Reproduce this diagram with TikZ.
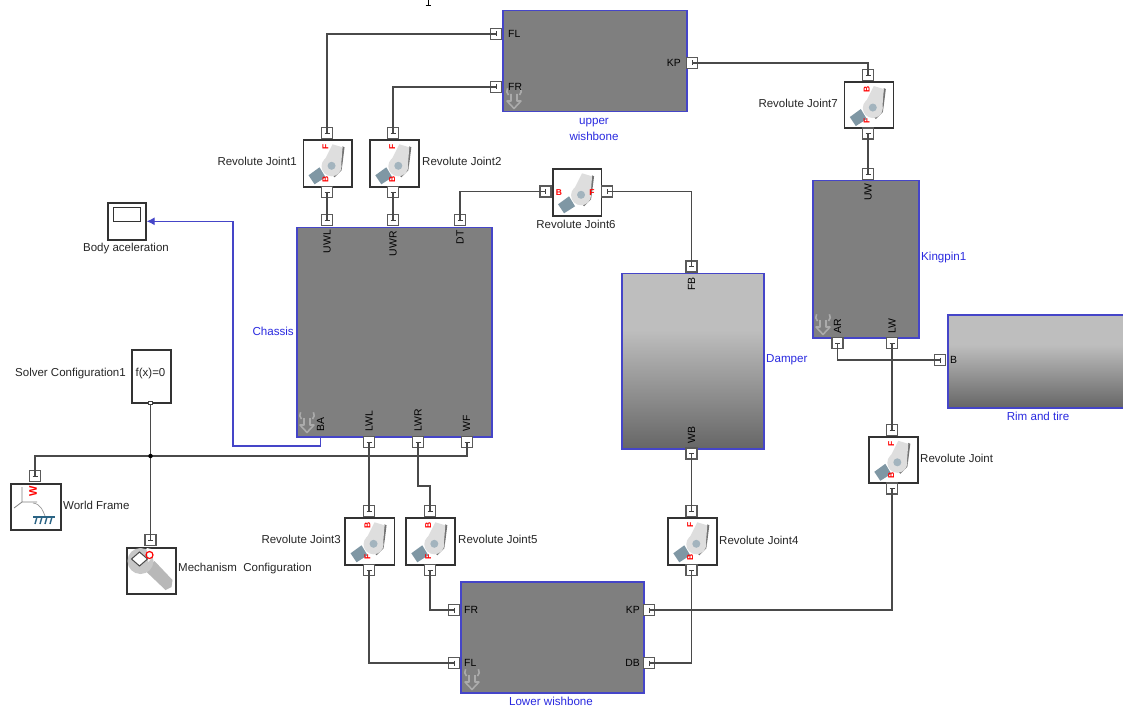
\documentclass[tikz,border=0pt]{standalone}
\usepackage{fontspec}
\setmainfont{Liberation Sans}
\usetikzlibrary{arrows.meta}
\definecolor{blockgray}{HTML}{7F7F7F}
\definecolor{blockedge}{HTML}{4545C8}
\definecolor{labelblue}{HTML}{2A2AE0}
\definecolor{wirecol}{HTML}{4A4A4A}
\definecolor{portcol}{HTML}{5A5A5A}
\definecolor{gradtop}{HTML}{BEBEBE}
\definecolor{gradbot}{HTML}{666666}
\definecolor{leverc}{HTML}{DEDEDE}
\definecolor{platec}{HTML}{7F97A4}
\definecolor{hubc}{HTML}{A3B4BE}
\definecolor{framec}{HTML}{2A6384}
\pgfdeclareverticalshading{simgrad}{100bp}{color(0bp)=(gradbot); color(25bp)=(gradbot); color(59bp)=(gradtop); color(75bp)=(gradtop); color(100bp)=(gradtop)}
\newcommand{\simblk}[6]{%
  \pgfmathsetmacro{\blkw}{#5-#3}\pgfmathsetmacro{\blkh}{#6-#4}%
  \node[#1,minimum width=\blkw pt,minimum height=\blkh pt,anchor=north west] (#2) at (#3,#4) {};}
\newcommand{\vport}[3]{\node[portbox] (#1) at (#2,#3) {};\draw[porttick] (#2-2.5,#3) -- (#2+2.5,#3);}
\newcommand{\hport}[3]{\node[portbox] (#1) at (#2,#3) {};\draw[porttick] (#2,#3-2.5) -- (#2,#3+2.5);}
\tikzset{
  x=1pt,y=-1pt,
  simbody/.style={draw=blockedge,line width=1.5pt,fill=blockgray,inner sep=0pt,rectangle},
  simgradbody/.style={draw=blockedge,line width=1.5pt,shading=simgrad,inner sep=0pt,rectangle},
  iconbox/.style={draw=black!80,line width=1.6pt,fill=white,inner sep=0pt,rectangle},
  portbox/.style={draw=portcol,line width=1.1pt,fill=white,minimum size=11pt,inner sep=0pt,rectangle},
  porttick/.style={draw=black!75,line width=0.7pt},
  wire/.style={draw=wirecol,line width=1.3pt},
  bluewire/.style={draw=blockedge,line width=1.2pt,-{Latex[length=8pt,width=8pt]}},
  blabel/.style={font=\fontsize{11.5}{13}\selectfont,text=black!85,inner sep=0pt},
  bluelabel/.style={font=\fontsize{11.6}{13}\selectfont,text=labelblue,inner sep=0pt,align=center},
  plabel/.style={font=\fontsize{10.4}{11}\selectfont,text=black,inner sep=0pt},
  redletter/.style={font=\fontsize{8.5}{9}\bfseries\selectfont,text=red,inner sep=0pt},
  pics/jointicon/.style n args={3}{code={
    \fill[platec] (-19,12) -- (-8,4) -- (-2,14) -- (-13,21) -- cycle;
    \fill[black!55] (15,-17) -- (17,-16) -- (15,0) -- (14,7) -- (7,14) -- (5,12) -- (12,5) -- cycle;
    \fill[leverc] (5,-19) -- (15,-16) -- (13.5,3) -- (-5,1) -- cycle;
    \fill[leverc] (4,3) circle[radius=10];
    \fill[hubc] (4,2.5) circle[radius=4];
    \if#1v
      \node[redletter,rotate=90] at (-2,-16) {#2};
      \node[redletter,rotate=90] at (-2,16) {#3};
    \else
      \node[redletter] at (-18,0) {#2};
      \node[redletter] at (15,0) {#3};
    \fi
  }},
  pics/maskicon/.style={code={
    \draw[black!33,line width=1.6pt,line join=round] (-3,-8) -- (-3,-1) -- (-7,-1) -- (0,6.5) -- (7,-1) -- (3,-1) -- (3,-8);
    \draw[black!33,line width=1.6pt] (-5.5,-7) arc[start angle=130,end angle=215,radius=5];
    \draw[black!33,line width=1.6pt] (5.5,-7) arc[start angle=50,end angle=-35,radius=5];
  }},
}
\begin{document}
\begin{tikzpicture}
\useasboundingbox (0,0) rectangle (1123,708);
\clip (0,0) rectangle (1123,708);
\fill[white] (0,0) rectangle (1123,708);
% clipped line of running text above the diagram
\draw[black,line width=1pt] (428,0) -- (428,5) (425.5,5.5) -- (431,5.5);
% blocks
\simblk{simbody}{upper}{502}{10}{686}{111}
\simblk{simbody}{chassis}{296}{227}{491}{436}
\simblk{simgradbody}{damper}{621}{273}{763}{448}
\simblk{simbody}{kingpin}{812}{180}{918}{337}
\simblk{simgradbody}{rim}{947}{314}{1131}{407}
\simblk{simbody}{lower}{460}{581}{643}{692}
% mask icons
\pic at (514,102) {maskicon};
\pic at (307,426) {maskicon};
\pic at (823,328) {maskicon};
\pic at (472,683) {maskicon};
% joints
\simblk{iconbox}{jA}{302.5}{139}{351}{186}
\simblk{iconbox}{jB}{369}{139}{418}{186}
\simblk{iconbox}{jC}{552}{168}{600.5}{215}
\simblk{iconbox}{jD}{843.5}{81}{892.5}{127.5}
\simblk{iconbox}{jE}{344}{517}{393.5}{564}
\simblk{iconbox}{jF}{405}{517}{454}{564}
\simblk{iconbox}{jG}{667}{517}{716}{564}
\simblk{iconbox}{jH}{868}{436}{917}{482}
\pic at (jA.center) {jointicon={v}{F}{B}};
\pic at (jB.center) {jointicon={v}{F}{B}};
\pic at (jC.center) {jointicon={h}{B}{F}};
\pic at (jD.center) {jointicon={v}{B}{F}};
\pic at (jE.center) {jointicon={v}{B}{F}};
\pic at (jF.center) {jointicon={v}{B}{F}};
\pic at (jG.center) {jointicon={v}{F}{B}};
\pic at (jH.center) {jointicon={v}{F}{B}};
% world frame, solver, mechanism, scope
\simblk{iconbox}{world}{10}{483}{60}{529}
\begin{scope}[shift={(35,506)}]
  \draw[black!50,line width=0.8pt] (-13,-19) -- (-13,-4) -- (-21,2) (-13,-4) -- (2,-4);
  \draw[black!40,line width=0.7pt] (-2,-3) .. controls (6,-2) and (8,5) .. (10,10);
  \draw[framec,line width=1.4pt] (-2,11) -- (20,11);
  \draw[framec,line width=1.4pt] (2,11) -- (0,18) (7,11) -- (5,18) (12,11) -- (10,18) (17,11) -- (15,18);
  \node[redletter,rotate=90,font=\fontsize{11}{11}\bfseries\selectfont] (wlet) at (-2,-15) {W};
\end{scope}
\simblk{iconbox}{solver}{131}{349}{170}{402}
\simblk{iconbox}{mech}{126}{547}{175}{593}
\begin{scope}[shift={(150.5,570)}]
  \fill[black!28] (-6,0) -- (4,-9) -- (22,10) -- (21,17) -- (15,20) -- cycle;
  \fill[black!22] (-10,-9) circle[radius=13];
  \fill[white] (-4,-22) -- (6,-20) -- (-2,-8) -- cycle;
  \draw[black!70,line width=1pt,fill=white] (-11,-18) -- (-3,-11) -- (-11,-4) -- (-19,-11) -- cycle;
  \draw[red,line width=1.2pt] (-1,-15) circle[radius=3.5];
\end{scope}
\simblk{iconbox}{scope}{107}{202}{145}{239}
\node[draw=black!80,line width=1.2pt,minimum width=27pt,minimum height=14pt,inner sep=0pt,anchor=north west] (scopescreen) at (113,207) {};
% ports
\hport{pFL}{496}{34}
\hport{pFR}{496}{87}
\hport{pKPu}{692}{63}
\vport{pAt}{327}{133}
\vport{pAb}{327}{192}
\vport{pBt}{393}{133}
\vport{pBb}{393}{192}
\vport{pUWL}{327}{220}
\vport{pUWR}{393}{220}
\vport{pDT}{460}{220}
\hport{pCl}{545.5}{191.5}
\hport{pCr}{607}{191.5}
\vport{pFB}{691.5}{266.5}
\vport{pWB}{691.5}{453.5}
\vport{pDt}{868}{75}
\vport{pDb}{868}{133.5}
\vport{pUW}{868}{174}
\vport{pAR}{837.5}{343}
\vport{pLW}{892}{343}
\hport{pB}{940}{360}
\vport{pHt}{892}{430}
\vport{pHb}{892}{488.5}
\vport{pLWL}{369}{442}
\vport{pLWR}{418}{442}
\vport{pWF}{467}{442}
\vport{pEt}{369}{511}
\vport{pEb}{369}{570}
\vport{pFt}{430}{511}
\vport{pFb}{430}{570}
\vport{pGt}{691.5}{511}
\vport{pGb}{691.5}{570}
\hport{pFRl}{454}{610}
\hport{pFLl}{454}{663}
\hport{pKPl}{649}{610}
\hport{pDB}{649}{663}
\vport{pW}{35}{476}
\vport{pM}{150.5}{540}
\node[draw=black!75,fill=white,line width=0.7pt,minimum size=3.5pt,inner sep=0pt] (pS) at (150.5,403) {};
% connectors
\coordinate (jbus) at (150.5,456);
\coordinate (lwrbend) at (418,486);
\draw[wire] (pFL.center) -| (pAt.center);
\draw[wire] (pFR.center) -| (pBt.center);
\draw[wire] (pAb.center) -- (pUWL.center);
\draw[wire] (pBb.center) -- (pUWR.center);
\draw[wire] (pDT.center) |- (pCl.center);
\draw[wire] (pCr.center) -| (pFB.center);
\draw[wire] (pKPu.center) -| (pDt.center);
\draw[wire] (pDb.center) -- (pUW.center);
\draw[wire] (pAR.center) |- (pB.center);
\draw[wire] (pLW.center) -- (pHt.center);
\draw[wire] (pHb.center) |- (pKPl.center);
\draw[wire] (pWB.center) -- (pGt.center);
\draw[wire] (pGb.center) |- (pDB.center);
\draw[wire] (pLWL.center) -- (pEt.center);
\draw[wire] (pLWR.center) -- (lwrbend) -| (pFt.center);
\draw[wire] (pEb.center) |- (pFLl.center);
\draw[wire] (pFb.center) |- (pFRl.center);
\draw[wire] (pW.center) |- (jbus) -| (pWF.center);
\draw[wire] (pS.south) -- (jbus) -- (pM.center);
\node[circle,fill=black,minimum size=4.5pt,inner sep=0pt] (busdot) at (jbus) {};
\coordinate (bastart) at (320.7,436);
\coordinate (babend) at (233,446);
\draw[bluewire] (bastart) |- (babend) |- (scope.east);
% block port labels
\node[plabel,anchor=west] (tFL) at (508,34) {FL};
\node[plabel,anchor=west] (tFR) at (508,87) {FR};
\node[plabel,anchor=east] (tKPu) at (681,63) {KP};
\node[plabel,rotate=90,anchor=east] (tUWL) at (327,230) {UWL};
\node[plabel,rotate=90,anchor=east] (tUWR) at (393,231) {UWR};
\node[plabel,rotate=90,anchor=east] (tDT) at (460,230) {DT};
\node[plabel,rotate=90,anchor=west] (tBA) at (320.5,432) {BA};
\node[plabel,rotate=90,anchor=west] (tLWL) at (369,432) {LWL};
\node[plabel,rotate=90,anchor=west] (tLWR) at (418,432) {LWR};
\node[plabel,rotate=90,anchor=west] (tWF) at (466.5,432) {WF};
\node[plabel,rotate=90,anchor=east] (tFB) at (691.5,277) {FB};
\node[plabel,rotate=90,anchor=west] (tWB) at (691.5,444) {WB};
\node[plabel,rotate=90,anchor=east] (tUW) at (868,183) {UW};
\node[plabel,rotate=90,anchor=west] (tAR) at (837.5,334) {AR};
\node[plabel,rotate=90,anchor=west] (tLW) at (892,334) {LW};
\node[plabel,anchor=west] (tB) at (950,360) {B};
\node[plabel,anchor=west] (tFRl) at (464,610) {FR};
\node[plabel,anchor=west] (tFLl) at (464,663) {FL};
\node[plabel,anchor=east] (tKPl) at (640,610) {KP};
\node[plabel,anchor=east] (tDB) at (640,663) {DB};
% block names
\node[bluelabel] (nUpper) at (594,129.5) {upper\\[3.5pt]wishbone};
\node[bluelabel,anchor=east] (nChassis) at (294,331) {Chassis};
\node[bluelabel,anchor=west] (nDamper) at (766,360) {Damper};
\node[bluelabel,anchor=west] (nKing) at (921,258) {Kingpin1};
\node[bluelabel] (nRim) at (1038,416) {Rim and tire};
\node[bluelabel] (nLower) at (551,701) {Lower wishbone};
% joint and utility names
\node[blabel,anchor=east] (nA) at (297,161) {Revolute Joint1};
\node[blabel,anchor=west] (nB) at (422,161) {Revolute Joint2};
\node[blabel] (nC) at (576,224) {Revolute Joint6};
\node[blabel,anchor=east] (nD) at (838,103) {Revolute Joint7};
\node[blabel,anchor=east] (nE) at (341,539) {Revolute Joint3};
\node[blabel,anchor=west] (nF) at (458,539) {Revolute Joint5};
\node[blabel,anchor=west] (nG) at (719,540) {Revolute Joint4};
\node[blabel,anchor=west] (nH) at (920,458) {Revolute Joint};
\node[blabel,anchor=east] (nS) at (126,374) {Solver Configuration1};
\node[blabel] (nSf) at (150.5,374) {f(x)=0};
\node[blabel,anchor=west] (nW) at (63,505) {World Frame};
\node[blabel,anchor=west] (nM) at (178,569) {Mechanism \ Configuration};
\node[blabel] (nScope) at (126,249) {Body aceleration};
\end{tikzpicture}
\end{document}
